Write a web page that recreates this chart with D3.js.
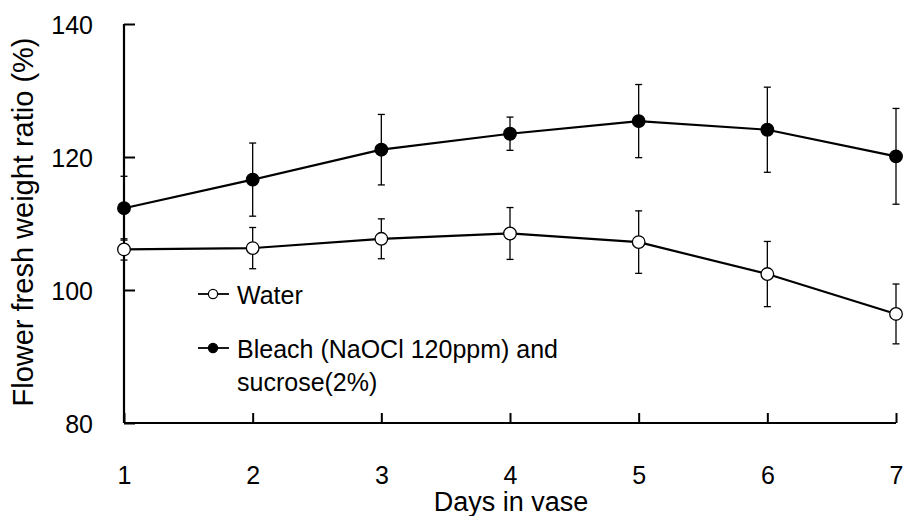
<!DOCTYPE html>
<html>
<head>
<meta charset="utf-8">
<script src="https://cdn.jsdelivr.net/npm/d3@7"></script>
<style>
  html, body { margin: 0; padding: 0; background: #fff; }
  svg { display: block; font-family: "Liberation Sans", Arial, sans-serif; }
</style>
</head>
<body>
<svg id="chart" width="903" height="516"></svg>
<script>
// ---- data ----
const days = [1, 2, 3, 4, 5, 6, 7];
const waterMean = [106.1, 106.3, 107.7, 108.5, 107.2, 102.4, 96.4];
const waterErr  = [1.6, 3.1, 3.0, 3.9, 4.7, 4.9, 4.5];
const bleachMean = [112.3, 116.6, 121.1, 123.5, 125.4, 124.1, 120.1];
const bleachErr  = [4.8, 5.5, 5.3, 2.5, 5.5, 6.4, 7.2];
const yTicks = [80, 100, 120, 140];
const xLabel = "Days in vase";
const yLabel = "Flower fresh weight ratio (%)";
const waterName = "Water";
const bleachNameLines = ["Bleach (NaOCl 120ppm) and", "sucrose(2%)"];

// ---- layout ----
const svg = d3.select("#chart");
const x = d3.scaleLinear().domain([1, 7]).range([124, 896]);
const y = d3.scaleLinear().domain([80, 140]).range([423, 24]);

// y axis
const yAxis = d3.axisLeft(y).tickValues(yTicks).tickSize(-11).tickPadding(31).tickFormat(d3.format("d"));
const gy = svg.append("g").attr("transform", `translate(${x(1)},0)`).call(yAxis);
gy.attr("font-family", null).attr("font-size", null);
gy.select(".domain").attr("stroke", "#000").attr("stroke-width", 2.2).attr("d", `M0,${y(140)}V${y(80)}`);
gy.selectAll(".tick line").attr("stroke", "#000").attr("stroke-width", 2);
gy.selectAll(".tick text").attr("x", -31).attr("dy", "0.36em").attr("text-anchor", "end")
  .style("font-size", "25px").attr("fill", "#000");

// x axis
const xAxis = d3.axisBottom(x).tickValues(days).tickSize(-10).tickPadding(0).tickFormat(d3.format("d"));
const gx = svg.append("g").attr("transform", `translate(0,${y(80)})`).call(xAxis);
gx.attr("font-family", null).attr("font-size", null);
gx.select(".domain").attr("stroke", "#000").attr("stroke-width", 2.2).attr("d", `M${x(1)},0H${x(7)}`);
gx.selectAll(".tick line").attr("stroke", "#000").attr("stroke-width", 2);
gx.selectAll(".tick text").attr("y", 61).attr("dy", 0).attr("text-anchor", "middle")
  .style("font-size", "25px").attr("fill", "#000");

// axis titles
svg.append("text").attr("x", x(4) + 1).attr("y", 511).attr("text-anchor", "middle")
  .style("font-size", "27px").text(xLabel);
svg.append("text").attr("transform", `translate(33,222) rotate(-90)`).attr("text-anchor", "middle")
  .style("font-size", "29px").text(yLabel);

// series
function drawSeries(mean, err, fill) {
  const pts = days.map((d, i) => ({ d, m: mean[i], e: err[i] }));
  const g = svg.append("g");
  const eb = g.selectAll(".eb").data(pts).enter().append("g");
  eb.append("line").attr("x1", p => x(p.d)).attr("x2", p => x(p.d))
    .attr("y1", p => y(p.m + p.e)).attr("y2", p => y(p.m - p.e))
    .attr("stroke", "#000").attr("stroke-width", 1.3);
  eb.append("line").attr("x1", p => x(p.d) - 3.5).attr("x2", p => x(p.d) + 3.5)
    .attr("y1", p => y(p.m + p.e)).attr("y2", p => y(p.m + p.e))
    .attr("stroke", "#000").attr("stroke-width", 1.3);
  eb.append("line").attr("x1", p => x(p.d) - 3.5).attr("x2", p => x(p.d) + 3.5)
    .attr("y1", p => y(p.m - p.e)).attr("y2", p => y(p.m - p.e))
    .attr("stroke", "#000").attr("stroke-width", 1.3);
  g.append("path").datum(pts)
    .attr("d", d3.line().x(p => x(p.d)).y(p => y(p.m)))
    .attr("fill", "none").attr("stroke", "#000").attr("stroke-width", 2.2);
  g.selectAll("circle").data(pts).enter().append("circle")
    .attr("cx", p => x(p.d)).attr("cy", p => y(p.m)).attr("r", 6.3)
    .attr("fill", fill).attr("stroke", "#000").attr("stroke-width", 1.3);
}
drawSeries(waterMean, waterErr, "#fff");
drawSeries(bleachMean, bleachErr, "#000");

// legend
function legendItem(ly, fill, lines) {
  const g = svg.append("g");
  g.append("line").attr("x1", 198).attr("x2", 229).attr("y1", ly).attr("y2", ly)
    .attr("stroke", "#000").attr("stroke-width", 1.8);
  g.append("circle").attr("cx", 213).attr("cy", ly).attr("r", 4.6)
    .attr("fill", fill).attr("stroke", "#000").attr("stroke-width", 1.2);
  lines.forEach((t, i) => {
    g.append("text").attr("x", 237).attr("y", ly + 9.5 + i * 33.5)
      .style("font-size", "25px").text(t);
  });
}
legendItem(294, "#fff", [waterName]);
legendItem(348, "#000", bleachNameLines);
</script>
</body>
</html>
